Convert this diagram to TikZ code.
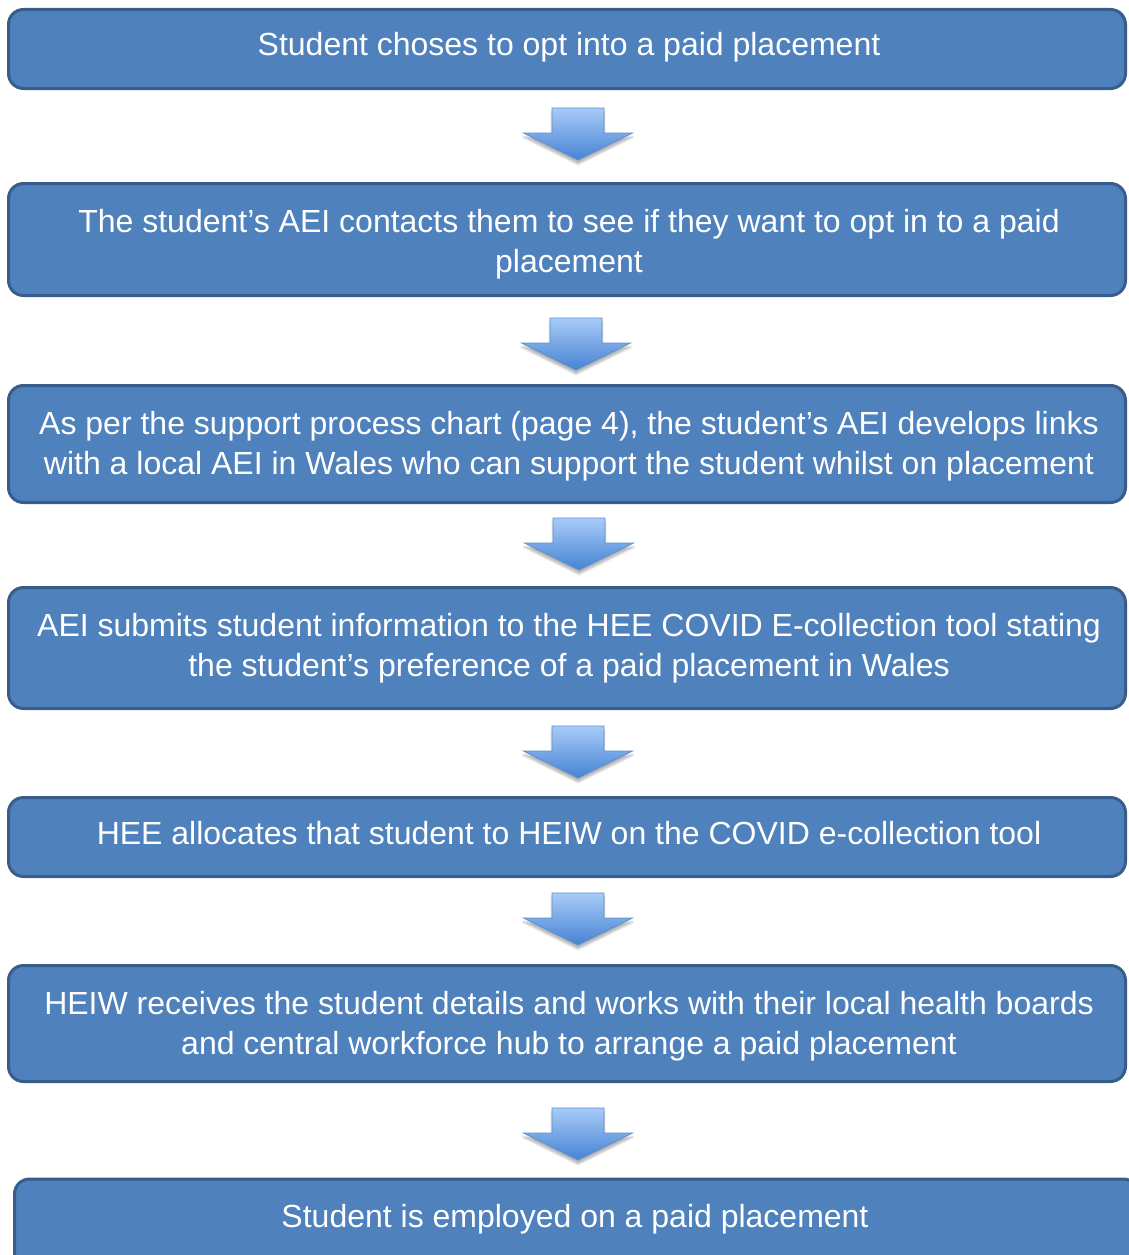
\documentclass[tikz,border=0pt]{standalone}
\usepackage{fontspec}
\setmainfont{Liberation Sans}
\usetikzlibrary{shadows.blur}
\definecolor{boxfill}{HTML}{4F81BD}
\definecolor{boxline}{HTML}{385D8A}
\definecolor{arrtop}{HTML}{A8CBF8}
\definecolor{arrbot}{HTML}{4683D3}
\definecolor{arrline}{HTML}{5B8FD0}
\tikzset{
  stepbox/.style={draw=boxline, fill=boxfill, line width=3pt, rounded corners=15pt,
    inner sep=0pt, minimum width=1117pt},
  steptext/.style={text=white, anchor=base, inner sep=0pt,
    font=\fontsize{32}{40}\selectfont},
  arrowshape/.style={draw=arrline, line width=0.8pt, top color=arrtop, bottom color=arrbot,
    blur shadow={shadow blur steps=6, shadow xshift=0pt, shadow yshift=-4pt, shadow opacity=30}},
  downarr/.pic={
    \path[arrowshape] (-26,0) -- (26,0) -- (26,25) -- (54.5,25) -- (0,52) -- (-54.5,25) -- (-26,25) -- cycle;
  }
}
\newcommand{\lines}[1]{\setlength{\tabcolsep}{0pt}\begin{tabular}[t]{c}#1\end{tabular}}
\begin{document}
\begin{tikzpicture}[x=1pt,y=-1pt]
\useasboundingbox (0,0) rectangle (1128,1255);
% boxes
\node[stepbox, minimum height=79pt] (b1) at (567,49) {};
\node[stepbox, minimum height=112pt] (b2) at (567,239.5) {};
\node[stepbox, minimum height=117pt] (b3) at (567,444) {};
\node[stepbox, minimum height=121pt] (b4) at (567,648) {};
\node[stepbox, minimum height=79pt] (b5) at (567,837) {};
\node[stepbox, minimum height=116pt] (b6) at (567,1023.5) {};
\node[stepbox, minimum height=110pt, minimum width=1124pt] (b7) at (576.5,1234) {};
% texts
\node[steptext] (t1) at (569,56) {\lines{Student choses to opt into a paid placement}};
\node[steptext] (t2) at (569,232) {\lines{The student’s AEI contacts them to see if they want to opt in to a paid\\placement}};
\node[steptext] (t3) at (569,434) {\lines{As per the support process chart (page 4), the student’s AEI develops links\\with a local AEI in Wales who can support the student whilst on placement}};
\node[steptext] (t4) at (569,636) {\lines{AEI submits student information to the HEE COVID E-collection tool stating\\the student’s preference of a paid placement in Wales}};
\node[steptext] (t5) at (569,844) {\lines{HEE allocates that student to HEIW on the COVID e-collection tool}};
\node[steptext] (t6) at (569,1014) {\lines{HEIW receives the student details and works with their local health boards\\and central workforce hub to arrange a paid placement}};
\node[steptext] (t7) at (575,1227) {\lines{Student is employed on a paid placement}};
% arrows
\pic at (578,108) {downarr};
\pic at (576,318) {downarr};
\pic at (579,518) {downarr};
\pic at (578,726) {downarr};
\pic at (578,893) {downarr};
\pic at (578,1108) {downarr};
\end{tikzpicture}
\end{document}
